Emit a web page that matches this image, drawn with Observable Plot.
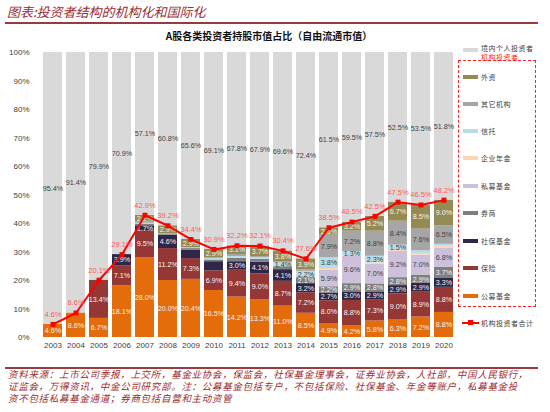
<!DOCTYPE html>
<html><head><meta charset="utf-8">
<script src="https://cdn.jsdelivr.net/npm/d3@7"></script>
<script src="https://cdn.jsdelivr.net/npm/@observablehq/plot@0.6"></script>
<style>
body{margin:0;background:#fff;}
#wrap{position:relative;width:550px;height:412px;overflow:hidden;font-family:"Noto Sans CJK SC","Liberation Sans",sans-serif;}
.abs{position:absolute;}
.lg{position:absolute;font-size:7px;letter-spacing:0.5px;color:#404040;line-height:8px;white-space:nowrap;}
.sw{position:absolute;width:15px;height:4px;}
</style></head>
<body><div id="wrap"></div>
<script>
const years = ["2003","2004","2005","2006","2007","2008","2009","2010","2011","2012","2013","2014","2015","2016","2017","2018","2019","2020"];
const seriesNames = ["公募基金","保险","社保基金","券商","私募基金","企业年金","信托","其它机构","外资","境内个人投资者"];
const seriesColors = ["#E46C0A","#953735","#2E2749","#7F7F7F","#CCC0DA","#FCD5B5","#B7DEE8","#A6A6A6","#948A54","#D9D9D9"];
const gongmu    = [4.6,8.6,6.7,18.1,28.0,20.0,20.4,16.5,14.2,13.3,11.0,8.5,4.9,4.2,5.8,6.3,7.2,8.8];
const baoxian   = [0,0,13.4,7.1,9.5,11.2,7.3,6.9,9.4,9.0,8.7,7.2,8.0,8.8,7.3,9.0,8.9,8.8];
const shebao    = [0,0,0,3.9,1.7,4.6,3.0,3.2,3.0,4.1,4.1,3.2,2.7,3.0,2.9,2.9,2.9,3.3];
const quanshang = [0,0,0,0,0.6,0.3,0.5,0.6,1.2,1.0,1.0,2.1,2.2,2.9,2.8,2.8,2.9,3.7];
const simu      = [0,0,0,0,0,0,0,0,0,0,0,0,5.9,9.6,7.0,9.2,7.0,6.8];
const nianjin   = [0,0,0,0,0,0,0,0,0,0,0,0,0.5,0.3,0.4,0.7,0.6,0.6];
const xintuo    = [0,0,0,0,0.3,0.2,0.3,0.5,0.6,0.6,1.4,2.2,3.8,1.3,2.3,1.5,0.9,0.7];
const qita      = [0,0,0,0,0.6,0,0,0.3,0.7,0.4,0.4,0.5,7.9,7.2,8.8,8.4,7.6,6.5];
const waizi     = [0,0,0,0,2.2,2.9,2.9,2.9,3.1,3.7,3.8,3.9,2.6,3.2,5.2,6.7,8.5,9.0];
const geren     = [95.4,91.4,79.9,70.9,57.1,60.8,65.6,69.1,67.8,67.9,69.6,72.4,61.5,59.5,57.5,52.5,53.5,51.8];
const total     = [4.6,8.6,20.1,29.1,42.9,39.2,34.4,30.9,32.2,32.1,30.4,27.6,38.5,40.5,42.5,47.5,46.5,48.2];
const hiddenLabels = ["2009|社保基金","2010|社保基金"];
const lightText = ["公募基金","保险","社保基金","券商","外资"];

const seriesValues = [gongmu,baoxian,shebao,quanshang,simu,nianjin,xintuo,qita,waizi,geren];
const rows = [];
seriesNames.forEach((s,i)=>years.forEach((y,j)=>rows.push({year:y,series:s,value:seriesValues[i][j]})));
const totalRows = years.map((y,j)=>({year:y,total:total[j]}));

const showLabel = d => d.value >= 1.3 && !hiddenLabels.includes(d.year+"|"+d.series);
const fmt = v => v.toFixed(1)+"%";

const chart = Plot.plot({
  width:550, height:320,
  marginLeft:35, marginRight:90, marginTop:12, marginBottom:23,
  style:{fontFamily:"Liberation Sans, Arial, sans-serif", fontSize:"8px", color:"#404040", background:"transparent"},
  x:{type:"band", domain:years, padding:0.18, label:null, tickSize:0, tickPadding:5},
  y:{domain:[0,100], ticks:d3.range(0,101,10), tickFormat:d=>d+"%", label:null, tickSize:0, tickPadding:6},
  color:{domain:seriesNames, range:seriesColors},
  marks:[
    Plot.barY(rows, {x:"year", y:"value", fill:"series", z:"series"}),
    Plot.text(rows, Plot.stackY({x:"year", y:"value", z:"series",
      text:d => (showLabel(d) && lightText.includes(d.series)) ? fmt(d.value) : "",
      fill:"#F4F4F4", fontSize:7.2})),
    Plot.text(rows, Plot.stackY({x:"year", y:"value", z:"series",
      text:d => (showLabel(d) && !lightText.includes(d.series)) ? fmt(d.value) : "",
      fill:"#404040", fontSize:7.2})),
    Plot.line(totalRows, {x:"year", y:"total", stroke:"#FF0000", strokeWidth:2}),
    Plot.dot(totalRows, {x:"year", y:"total", symbol:"square", r:2.8, fill:"#FF0000"}),
    Plot.text(totalRows, {x:"year", y:"total", text:d=>fmt(d.total), dy:-10, fill:"#FF5A5A", fontSize:7.5})
  ]
});

const wrap = document.getElementById("wrap");
function add(html){ wrap.insertAdjacentHTML("beforeend", html); }
add(`<div class="abs" style="left:7px;top:2px;font-size:13px;font-style:italic;color:#9B2D30;">图表:投资者结构的机构化和国际化</div>`);
add(`<div class="abs" style="left:5px;top:22px;width:533px;height:1.5px;background:#9B3A3A;"></div>`);
add(`<div class="abs" style="left:0;top:28px;width:538px;text-align:center;font-size:10px;font-weight:bold;color:#111;">A股各类投资者持股市值占比（自由流通市值）</div>`);
chart.style.position = "absolute";
chart.style.left = "0px";
chart.style.top = "40px";
wrap.appendChild(chart);

// legend
const legendOrder = ["外资","其它机构","信托","企业年金","私募基金","券商","社保基金","保险","公募基金"];
const legendYs = [77,104,131,158,186,213,241,268,296];
add(`<div class="sw" style="left:463px;top:48px;background:${seriesColors[9]}"></div>`);
add(`<div class="lg" style="left:481px;top:44px;">境内个人投资者</div>`);
add(`<div class="lg" style="left:481px;top:53px;color:#FF2020;">机构投资者</div>`);
add(`<div class="abs" style="left:458px;top:60px;width:78px;height:247px;border:1.5px dashed #FF2020;box-sizing:border-box;"></div>`);
legendOrder.forEach((s,i)=>{
  const c = seriesColors[seriesNames.indexOf(s)];
  add(`<div class="sw" style="left:463px;top:${legendYs[i]-2}px;background:${c}"></div>`);
  add(`<div class="lg" style="left:481px;top:${legendYs[i]-4}px;">${s}</div>`);
});
add(`<div class="abs" style="left:462px;top:322px;width:17px;height:2px;background:#FF0000;"></div>`);
add(`<div class="abs" style="left:468px;top:320px;width:5px;height:5px;background:#FF0000;"></div>`);
add(`<div class="lg" style="left:481px;top:319px;">机构投资者合计</div>`);

// footer
add(`<div class="abs" style="left:5px;top:367px;width:533px;height:1.5px;background:#9B3A3A;"></div>`);
add(`<div class="abs" style="left:8px;top:368px;font-size:9.5px;line-height:12px;letter-spacing:0.7px;font-style:italic;color:#9B2D30;white-space:nowrap;">资料来源：上市公司季报，上交所，基金业协会，保监会，社保基金理事会，证券业协会，人社部，中国人民银行，<br>证监会，万得资讯，中金公司研究部。注：公募基金包括专户，不包括保险、社保基金、年金等账户，私募基金投<br>资不包括私募基金通道；券商包括自营和主动资管</div>`);
</script>
</body></html>
